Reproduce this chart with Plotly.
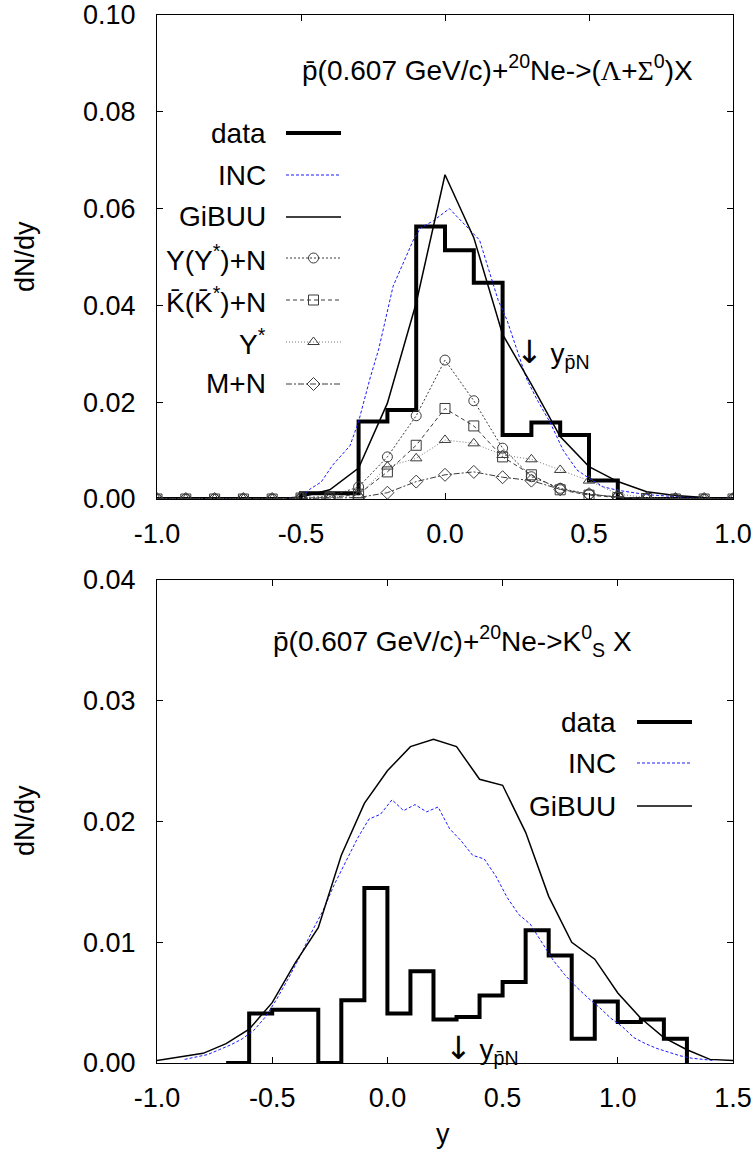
import plotly.graph_objects as go

FONT = "Liberation Sans, Arial, Helvetica, sans-serif"
FS = 28
TFS = 27

# ---------------- top panel data ----------------
top_bin_left = [-1.0, -0.9, -0.8, -0.7, -0.6, -0.5, -0.4, -0.3, -0.2, -0.1,
                0.0, 0.1, 0.2, 0.3, 0.4, 0.5, 0.6, 0.7, 0.8, 0.9]
top_bin_right_edge = 1.0
top_data = [0, 0, 0, 0, 0, 0.0012, 0.0012, 0.0160, 0.0184, 0.0563,
            0.0514, 0.0447, 0.0132, 0.0158, 0.0132, 0.0038, 0, 0, 0, 0]

top_inc_x = [-1.0, -0.9, -0.8, -0.7, -0.6, -0.5, -0.47, -0.43, -0.39, -0.33, -0.30,
             -0.26, -0.23, -0.18, -0.15, -0.11, -0.085, -0.04, 0.015, 0.09, 0.12,
             0.185, 0.215, 0.285, 0.32, 0.366, 0.41, 0.458, 0.5, 0.55, 0.6, 0.7,
             0.8, 0.9, 1.0]
top_inc_y = [0, 0, 0, 0, 0, 0.0003, 0.0020, 0.0035, 0.0070, 0.0110, 0.0160,
             0.0250, 0.0310, 0.0440, 0.0480, 0.0535, 0.0560, 0.0575, 0.0600, 0.0555, 0.0535,
             0.0410, 0.0370, 0.0246, 0.0205, 0.0157, 0.0101, 0.0060, 0.0043, 0.0025, 0.0018, 0.0009,
             0.0005, 0.0003, 0.0001]

top_x = [-1.0, -0.9, -0.8, -0.7, -0.6, -0.5, -0.4, -0.3, -0.2, -0.1, 0.0,
         0.1, 0.2, 0.3, 0.4, 0.5, 0.6, 0.7, 0.8, 0.9, 1.0]
top_gibuu = [0, 0, 0, 0, 0, 0.0004, 0.0019, 0.0064, 0.0198, 0.0405, 0.0670,
             0.0540, 0.0340, 0.0237, 0.0129, 0.0067, 0.0036, 0.0015, 0.0007, 0.0003, 0.0002]
top_yyn = [0, 0, 0, 0, 0, 0.0003, 0.0005, 0.0025, 0.0087, 0.0172, 0.0287,
           0.0203, 0.0105, 0.0046, 0.0022, 0.0010, 0.0004, 0.0001, 0, 0, 0]
top_kbar = [0, 0, 0, 0, 0, 0.0002, 0.0003, 0.0010, 0.0056, 0.0111, 0.0187,
            0.0151, 0.0087, 0.0050, 0.0019, 0.0008, 0.0003, 0.0001, 0, 0, 0]
top_ystar = [0, 0, 0, 0, 0, 0.0002, 0.0003, 0.0008, 0.0067, 0.0084, 0.0122,
             0.0115, 0.0091, 0.0082, 0.0060, 0.0038, 0.0010, 0.0003, 0.0001, 0, 0]
top_mn = [0, 0, 0, 0, 0, 0.0001, 0.0002, 0.0003, 0.0013, 0.0036, 0.0050,
          0.0056, 0.0045, 0.0038, 0.0020, 0.0010, 0.0004, 0.0001, 0, 0, 0]

# ---------------- bottom panel data ----------------
bot_bin_left = [-0.7, -0.6, -0.5, -0.4, -0.3, -0.2, -0.1, 0.0, 0.1, 0.2,
                0.3, 0.4, 0.5, 0.6, 0.7, 0.8, 0.9, 1.0, 1.1, 1.2]
bot_bin_right_edge = 1.3
bot_data = [0, 0.0041, 0.0044, 0.0044, 0, 0.0052, 0.0145, 0.0041, 0.0076, 0.0036,
            0.0038, 0.0056, 0.0067, 0.0110, 0.0089, 0.0020, 0.0051, 0.0034, 0.0036, 0.0020]

bot_gibuu_x = [-1.0, -0.9, -0.8, -0.7, -0.6, -0.5, -0.4, -0.3, -0.2, -0.1, 0.0, 0.1, 0.2,
               0.3, 0.4, 0.5, 0.6, 0.7, 0.8, 0.9, 1.0, 1.1, 1.2, 1.3, 1.4, 1.5]
bot_gibuu = [0.0002, 0.0005, 0.0008, 0.0016, 0.0028, 0.0050, 0.0083, 0.0112, 0.0172, 0.0215,
             0.0242, 0.0262, 0.0268, 0.0262, 0.0235, 0.0230, 0.0191, 0.0138, 0.0100, 0.0086,
             0.0058, 0.0037, 0.0021, 0.0011, 0.0003, 0.0002]

bot_inc_x = [-0.88, -0.83, -0.78, -0.73, -0.68, -0.63, -0.58, -0.53, -0.48, -0.43,
             -0.38, -0.33, -0.28, -0.23, -0.18, -0.13, -0.08, -0.03, 0.02, 0.07,
             0.12, 0.17, 0.22, 0.27, 0.32, 0.37, 0.42, 0.47, 0.52, 0.57,
             0.62, 0.67, 0.72, 0.77, 0.82, 0.87, 0.92, 0.97, 1.02, 1.07,
             1.12, 1.17, 1.22, 1.27, 1.32, 1.37, 1.42]
bot_inc = [0.0003, 0.0005, 0.0007, 0.0011, 0.0015, 0.0020, 0.0027, 0.0038, 0.0053, 0.0070,
           0.0088, 0.0108, 0.0126, 0.0148, 0.0167, 0.0186, 0.0202, 0.0206, 0.0218, 0.0209,
           0.0214, 0.0208, 0.0212, 0.0194, 0.0184, 0.0172, 0.0169, 0.0155, 0.0137, 0.0123,
           0.0115, 0.0100, 0.0085, 0.0073, 0.0063, 0.0054, 0.0046, 0.0037, 0.0030, 0.0021,
           0.0016, 0.0012, 0.0009, 0.0006, 0.0004, 0.0003, 0.0002]

top_xticks = [-1.0, -0.5, 0.0, 0.5, 1.0]
top_yticks = [0.00, 0.02, 0.04, 0.06, 0.08, 0.10]
bot_xticks = [-1.0, -0.5, 0.0, 0.5, 1.0, 1.5]
bot_yticks = [0.00, 0.01, 0.02, 0.03, 0.04]

# ---------------- layout geometry (pixels) ----------------
W, H = 756, 1151
ML, MR, MT, MB = 157, 23, 15, 88
PW, PH = W - ML - MR, H - MT - MB


def px_x(p):
    return (p - ML) / PW


def px_y(p):
    return (H - MB - p) / PH


top_dom = [px_y(499), 1.0]
bot_dom = [0.0, px_y(580)]

GREY = "#3a3a3a"
BLUE = "#1a1aff"

fig = go.Figure()

# data histograms
fig.add_trace(go.Scatter(x=top_bin_left + [top_bin_right_edge], y=top_data + [0],
                         mode="lines", line=dict(color="black", width=4, shape="hv"),
                         xaxis="x", yaxis="y", showlegend=False))
fig.add_trace(go.Scatter(x=top_inc_x, y=top_inc_y, mode="lines",
                         line=dict(color=BLUE, width=1, dash="3px,2px"),
                         xaxis="x", yaxis="y", showlegend=False))
fig.add_trace(go.Scatter(x=top_x, y=top_gibuu, mode="lines",
                         line=dict(color="black", width=1.5),
                         xaxis="x", yaxis="y", showlegend=False))

marker_series = [
    (top_yyn, "circle-open", "2px,2px", GREY),
    (top_kbar, "square-open", "4px,3px", GREY),
    (top_ystar, "triangle-up-open", "1px,2px", "#777777"),
    (top_mn, "diamond-open", "6px,2px,2px,2px", GREY),
]
for vals, sym, dash, col in marker_series:
    fig.add_trace(go.Scatter(x=top_x, y=vals, mode="lines+markers",
                             line=dict(color=col, width=1, dash=dash),
                             marker=dict(symbol=sym, size=10, color=GREY,
                                         line=dict(color=GREY, width=1)),
                             xaxis="x", yaxis="y", showlegend=False))

# bottom panel
fig.add_trace(go.Scatter(x=bot_bin_left + [bot_bin_right_edge], y=bot_data + [0],
                         mode="lines", line=dict(color="black", width=4, shape="hv"),
                         xaxis="x2", yaxis="y2", showlegend=False))
fig.add_trace(go.Scatter(x=bot_inc_x, y=bot_inc, mode="lines",
                         line=dict(color=BLUE, width=1, dash="3px,2px"),
                         xaxis="x2", yaxis="y2", showlegend=False))
fig.add_trace(go.Scatter(x=bot_gibuu_x, y=bot_gibuu, mode="lines",
                         line=dict(color="black", width=1.5),
                         xaxis="x2", yaxis="y2", showlegend=False))

# ---------------- custom gnuplot-style keys ----------------
annotations = []


def key_entry(label, text_right_px, line_px, row_px, line, marker=None):
    x0, x1 = px_x(line_px[0]), px_x(line_px[1])
    yy = px_y(row_px)
    fig.add_trace(go.Scatter(x=[x0, x1], y=[yy, yy], mode="lines", line=line,
                             xaxis="x3", yaxis="y3", showlegend=False, hoverinfo="skip"))
    if marker is not None:
        fig.add_trace(go.Scatter(x=[(x0 + x1) / 2], y=[yy], mode="markers", marker=marker,
                                 xaxis="x3", yaxis="y3", showlegend=False, hoverinfo="skip"))
    annotations.append(dict(x=px_x(text_right_px), y=yy, xref="paper", yref="paper",
                            text=label, showarrow=False, xanchor="right", yanchor="middle",
                            font=dict(family=FONT, size=FS, color="black")))


top_rows = [133, 175, 217, 258, 300, 342, 384]
key_entry("data", 268, (286, 341), top_rows[0], dict(color="black", width=4))
key_entry("INC", 268, (286, 341), top_rows[1], dict(color=BLUE, width=1, dash="3px,2px"))
key_entry("GiBUU", 268, (286, 341), top_rows[2], dict(color="black", width=1.5))
labels_m = ["Y(Y<sup>*</sup>)+N", "K\u0304(K\u0304<sup>*</sup>)+N", "Y<sup>*</sup>", "M+N"]
for (vals, sym, dash, col), lab, row in zip(marker_series, labels_m, top_rows[3:]):
    key_entry(lab, 268, (286, 341), row, dict(color=col, width=1, dash=dash),
              marker=dict(symbol=sym, size=10, color=GREY, line=dict(color=GREY, width=1)))

bot_rows = [722, 763, 806]
key_entry("data", 618, (637, 692), bot_rows[0], dict(color="black", width=4))
key_entry("INC", 618, (637, 692), bot_rows[1], dict(color=BLUE, width=1, dash="3px,2px"))
key_entry("GiBUU", 618, (637, 692), bot_rows[2], dict(color="black", width=1.5))

SER = "<span style='font-family:Liberation Serif'>"
ARROW = "<span style='font-family:DejaVu Sans;font-size:32px'>\u2193</span>"
annotations += [
    dict(x=px_x(300), y=px_y(68), xref="paper", yref="paper", xanchor="left", yanchor="middle",
         text="p\u0304(0.607 GeV/c)+<sup>20</sup>Ne->(" + SER + "\u039b</span>+" + SER +
              "\u03a3</span><sup>0</sup>)X",
         showarrow=False, font=dict(family=FONT, size=FS, color="black")),
    dict(x=px_x(271), y=px_y(641), xref="paper", yref="paper", xanchor="left", yanchor="middle",
         text="p\u0304(0.607 GeV/c)+<sup>20</sup>Ne->K<sup>0</sup><sub>S</sub> X",
         showarrow=False, font=dict(family=FONT, size=FS, color="black")),
    dict(x=px_x(514), y=px_y(353), xref="paper", yref="paper", xanchor="left", yanchor="middle",
         text=ARROW + " y<sub>p\u0304N</sub>", showarrow=False,
         font=dict(family=FONT, size=FS, color="black")),
    dict(x=px_x(443), y=px_y(1049), xref="paper", yref="paper", xanchor="left", yanchor="middle",
         text=ARROW + " y<sub>p\u0304N</sub>", showarrow=False,
         font=dict(family=FONT, size=FS, color="black")),
    dict(x=px_x(25), y=px_y(257), xref="paper", yref="paper", xanchor="center", yanchor="middle",
         text="dN/dy", textangle=-90, showarrow=False,
         font=dict(family=FONT, size=TFS, color="black")),
    dict(x=px_x(25), y=px_y(821), xref="paper", yref="paper", xanchor="center", yanchor="middle",
         text="dN/dy", textangle=-90, showarrow=False,
         font=dict(family=FONT, size=TFS, color="black")),
    dict(x=px_x(443), y=px_y(1134), xref="paper", yref="paper", xanchor="center", yanchor="middle",
         text="y", showarrow=False, font=dict(family=FONT, size=TFS, color="black")),
]

axis_common = dict(showline=True, linecolor="black", linewidth=1, mirror="ticks",
                   ticks="inside", ticklen=6, tickwidth=1, tickcolor="black",
                   showgrid=False, zeroline=False, automargin=False,
                   ticklabeloverflow="allow",
                   tickfont=dict(family=FONT, size=TFS, color="black"))

fig.update_layout(
    width=W, height=H,
    margin=dict(l=ML, r=MR, t=MT, b=MB, autoexpand=False),
    paper_bgcolor="white", plot_bgcolor="rgba(0,0,0,0)",
    showlegend=False,
    xaxis=dict(domain=[0, 1], anchor="y", range=[-1.0, 1.0], tickvals=top_xticks,
               ticktext=[f"{v:.1f}" for v in top_xticks], ticklabelstandoff=11, **axis_common),
    yaxis=dict(domain=top_dom, anchor="x", range=[0, 0.1], tickvals=top_yticks,
               ticktext=[f"{v:.2f}" for v in top_yticks], ticklabelstandoff=15, **axis_common),
    xaxis2=dict(domain=[0, 1], anchor="y2", range=[-1.0, 1.5], tickvals=bot_xticks,
                ticktext=[f"{v:.1f}" for v in bot_xticks], ticklabelstandoff=11, **axis_common),
    yaxis2=dict(domain=bot_dom, anchor="x2", range=[0, 0.04], tickvals=bot_yticks,
                ticktext=[f"{v:.2f}" for v in bot_yticks], ticklabelstandoff=15, **axis_common),
    xaxis3=dict(domain=[0, 1], anchor="y3", range=[0, 1], visible=False, fixedrange=True,
                automargin=False),
    yaxis3=dict(domain=[0, 1], anchor="x3", range=[0, 1], visible=False, fixedrange=True,
                automargin=False),
    annotations=annotations,
)

fig.write_html("out.html", config={"displayModeBar": False},
               post_script="document.body.style.margin='0';document.body.style.overflow='hidden';")
